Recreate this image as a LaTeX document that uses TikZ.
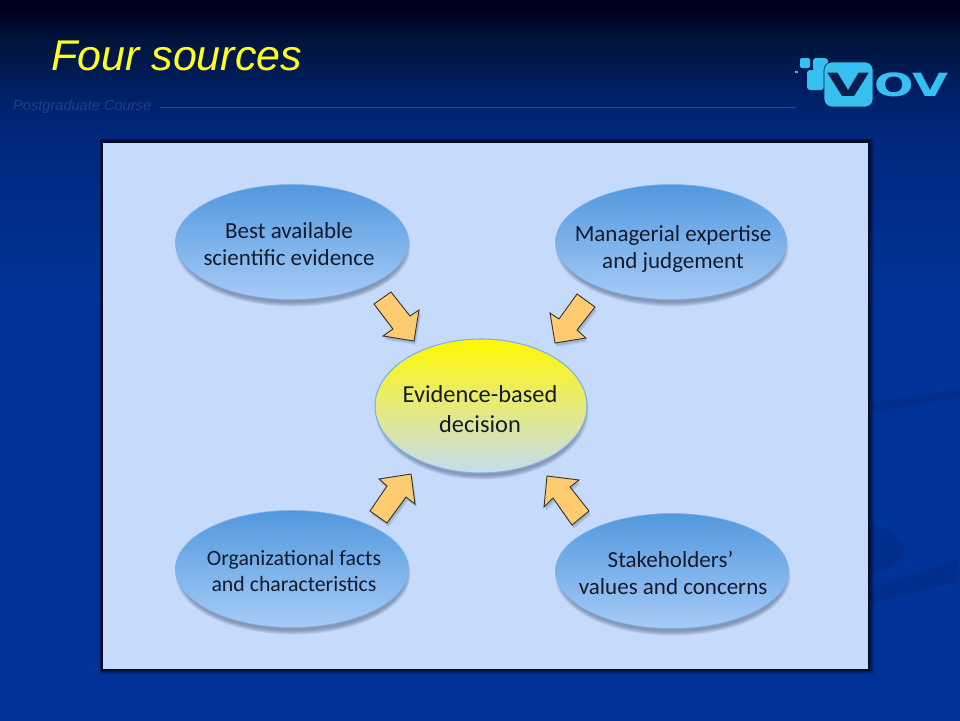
\documentclass[tikz,border=0pt]{standalone}
\usepackage{fontspec}
\setmainfont{Carlito}
\newfontfamily\arialfont{Liberation Sans}
\newfontfamily\logofont{DejaVu Sans}
\usetikzlibrary{shapes.geometric}
\definecolor{bgtop}{HTML}{00001A}
\definecolor{bgb}{HTML}{00001E}
\definecolor{bgc}{HTML}{001338}
\definecolor{bgd}{HTML}{00216A}
\definecolor{bge}{HTML}{00297F}
\definecolor{bgf}{HTML}{003399}
\definecolor{swoosh}{HTML}{002E8E}
\definecolor{panelfill}{HTML}{C6DAFC}
\definecolor{paneledge}{HTML}{000A2A}
\definecolor{ovaltop}{HTML}{5298DE}
\definecolor{ovalbot}{HTML}{A6CBF7}
\definecolor{ovaledge}{HTML}{7FB0E8}
\definecolor{centretop}{HTML}{FFF800}
\definecolor{centremid}{HTML}{E6EA7A}
\definecolor{centrebot}{HTML}{C4DCEE}
\definecolor{arrowfill}{HTML}{FFCB70}
\definecolor{arrowedge}{HTML}{33332E}
\definecolor{shadowc}{HTML}{3A4A6A}
\definecolor{inktext}{HTML}{141C2C}
\definecolor{logoblue}{HTML}{38BFF2}
\definecolor{logonavy}{HTML}{0C1C4E}
\definecolor{rulec}{HTML}{0F4DBE}
\definecolor{subtitlec}{HTML}{1E3F90}
\pgfdeclareverticalshading{slidebg}{100bp}{%
 color(0bp)=(bgf);
 color(25bp)=(bgf);
 color(54bp)=(bgf);
 color(65bp)=(bge);
 color(68bp)=(bgd);
 color(72.5bp)=(bgc);
 color(74.2bp)=(bgb);
 color(75bp)=(bgtop);
 color(100bp)=(bgtop)}
\pgfdeclareverticalshading{centreshade}{100bp}{%
 color(0bp)=(centrebot);
 color(25bp)=(centrebot);
 color(50bp)=(centremid);
 color(75bp)=(centretop);
 color(100bp)=(centretop)}
\tikzset{
 x=1pt,y=-1pt,
 ovalbox/.style={ellipse,inner sep=0pt,draw=ovaledge,line width=.6pt,top color=ovaltop,bottom color=ovalbot},
 centrebox/.style={ellipse,inner sep=0pt,draw=ovaledge,line width=1.1pt,shading=centreshade},
 softshadow/.style={ellipse,inner sep=0pt,fill=shadowc,fill opacity=.07,draw=none},
 bodytext/.style={font=\fontsize{23}{27}\selectfont,text=inktext,align=center,inner sep=0pt},
 blockarrow/.style={fill=arrowfill,draw=arrowedge,line width=.9pt,line join=miter},
 arrowshadow/.style={fill=shadowc,fill opacity=.1,draw=none},
 swooshband/.style={fill=swoosh,draw=none},
 logoshape/.style={fill=logoblue,draw=none},
}
\newcommand{\ovalshadow}[4]{%
 \foreach \g in {0,...,7}{%
  \node[softshadow,minimum width=#3*2pt+\g*1.2pt-7pt,minimum height=#4*2pt+\g*1.2pt-5pt] at (#1+1,#2+5) {};}}
\begin{document}
\begin{tikzpicture}
\useasboundingbox (0,0) rectangle (960,720);
\fill[shading=slidebg] (0,0) rectangle (960,720);
% faint background swooshes
\fill[swooshband] (868,403) .. controls (900,399) and (930,393) .. (960,389) -- (960,398) .. controls (930,402) and (900,408) .. (868,413) -- cycle;
\fill[swooshband] (868,523) .. controls (890,528) and (904,540) .. (904,550) .. controls (904,560) and (890,570) .. (868,575) -- cycle;
\fill[swooshband] (868,588) -- (957,560) -- (957,582) -- (868,603) -- cycle;
% title band
\node[anchor=base west,inner sep=0pt,font=\arialfont\itshape\fontsize{43}{43}\selectfont,text={rgb,1:red,1;green,1;blue,.12}] (title) at (51,70) {Four sources};
\node[anchor=base west,inner sep=0pt,font=\arialfont\itshape\fontsize{14.6}{14.6}\selectfont,text=subtitlec] (subtitle) at (13,110) {Postgraduate Course};
\coordinate (ruleA) at (160,107);
\coordinate (ruleB) at (796,107);
\draw[rulec,line width=.9pt] (ruleA) -- (ruleB);
% logo
\fill[logoshape] (795,71) rectangle (798,73);
\fill[logoshape,rounded corners=2pt] (800,58) rectangle (810,68);
\fill[logoshape,rounded corners=3pt] (813,58) rectangle (828,72);
\fill[logoshape,rounded corners=3pt] (807,70) rectangle (824,90);
\fill[logoshape,rounded corners=8pt,draw=logonavy,line width=.6pt] (824,62) rectangle (873,107);
\node[inner sep=0pt,font=\logofont\bfseries\fontsize{32}{32}\selectfont,text=logonavy,xscale=1.7] (logoV) at (849,85) {V};
\node[anchor=west,inner sep=0pt,font=\logofont\bfseries\fontsize{32}{32}\selectfont,text=logoblue,xscale=1.45] (logoOV) at (874,85) {OV};
% panel
\foreach \g in {5,4,3,2,1}{\fill[black,opacity=.14] (101-.3*\g,140-.3*\g) rectangle (869+\g,669+\g);}
\node[draw=paneledge,line width=2pt,fill=panelfill,inner sep=0pt,minimum width=767pt,minimum height=528pt,anchor=north west] (panel) at (101,140.5) {};
% shadows of ovals
\ovalshadow{292}{242}{117}{58}
\ovalshadow{671}{242}{116}{58}
\ovalshadow{292}{569}{117}{59}
\ovalshadow{672}{571}{117}{58}
\ovalshadow{481}{406}{106}{67}
% ovals
\node[ovalbox,minimum width=233pt,minimum height=115pt] (evidence) at (292,242) {};
\node[ovalbox,minimum width=231pt,minimum height=115pt] (expertise) at (671,242) {};
\node[ovalbox,minimum width=233pt,minimum height=117pt] (facts) at (292,569) {};
\node[ovalbox,minimum width=233pt,minimum height=115pt] (values) at (672,571) {};
\node[centrebox,minimum width=212pt,minimum height=134pt] (decision) at (481,406) {};
% labels
\node[bodytext] (evidenceT) at (289,244) {Best available\\scientific evidence};
\node[bodytext] (expertiseT) at (673,248.5) {Managerial expertise\\and judgement};
\node[bodytext,font=\fontsize{21.8}{26}\selectfont] (factsT) at (294,571) {Organizational facts\\and characteristics};
\node[bodytext] (valuesT) at (670.5,573) {Stakeholders’\\\ values and concerns};
\node[bodytext,font=\fontsize{24.4}{30}\selectfont] (decisionT) at (480,409.5) {Evidence-based\\decision};
% block arrows
\foreach \g in {0,1,2}{
\fill[arrowshadow,shift={(1+\g*.5,2+\g)}] (374,304) -- (391,292) -- (410,316) -- (419,310) -- (414,341) -- (383,336) -- (393,329) -- cycle;
\fill[arrowshadow,shift={(1+\g*.5,2+\g)}] (577,294) -- (595,307) -- (577,330) -- (586,338) -- (555,343) -- (550,313) -- (559,319) -- cycle;
\fill[arrowshadow,shift={(1+\g*.5,2+\g)}] (370,511) -- (387,523) -- (406,497) -- (415,504) -- (411,474) -- (379,479) -- (387,486) -- cycle;
\fill[arrowshadow,shift={(1+\g*.5,2+\g)}] (589,511) -- (572,525) -- (553,498) -- (544,507) -- (547,476) -- (579,480) -- (570,487) -- cycle;
}
\draw[blockarrow] (374,304) -- (391,292) -- (410,316) -- (419,310) -- (414,341) -- (383,336) -- (393,329) -- cycle;
\draw[blockarrow] (577,294) -- (595,307) -- (577,330) -- (586,338) -- (555,343) -- (550,313) -- (559,319) -- cycle;
\draw[blockarrow] (370,511) -- (387,523) -- (406,497) -- (415,504) -- (411,474) -- (379,479) -- (387,486) -- cycle;
\draw[blockarrow] (589,511) -- (572,525) -- (553,498) -- (544,507) -- (547,476) -- (579,480) -- (570,487) -- cycle;
\end{tikzpicture}
\end{document}
